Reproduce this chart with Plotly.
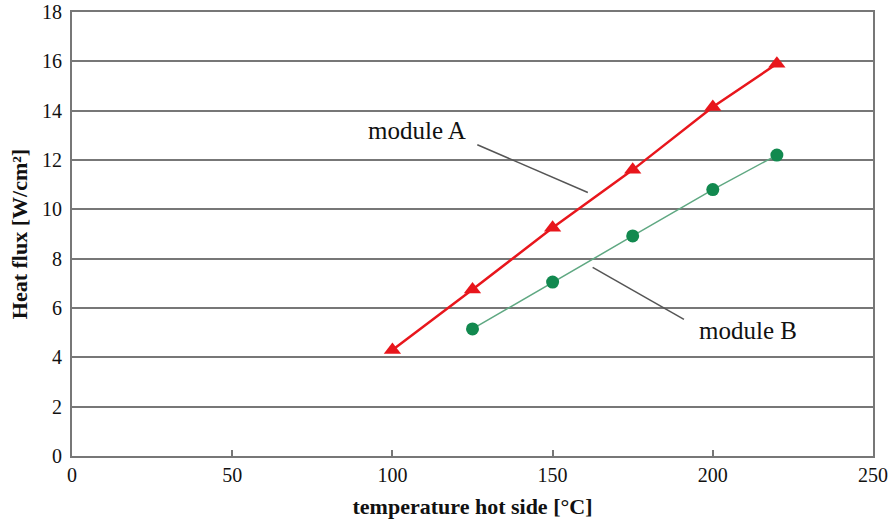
import plotly.graph_objects as go

temp_a = [100, 125, 150, 175, 200, 220]
flux_a = [4.3, 6.75, 9.25, 11.6, 14.15, 15.9]
temp_b = [125, 150, 175, 200, 220]
flux_b = [5.15, 7.05, 8.92, 10.8, 12.2]
x_ticks = [0, 50, 100, 150, 200, 250]
y_ticks = [0, 2, 4, 6, 8, 10, 12, 14, 16, 18]

FONT = "Liberation Serif, Times New Roman, serif"

fig = go.Figure()
fig.add_trace(go.Scatter(x=temp_a, y=flux_a, mode="lines+markers", name="module A",
                         line=dict(color="#e8161c", width=2.5),
                         marker=dict(symbol="triangle-up", size=15, color="#e8161c")))
fig.add_trace(go.Scatter(x=temp_b, y=flux_b, mode="lines+markers", name="module B",
                         line=dict(color="#5fa882", width=1.5),
                         marker=dict(symbol="circle", size=13, color="#12894f")))

# leader lines
fig.add_shape(type="line", x0=126.5, y0=12.62, x1=161.0, y1=10.68,
              line=dict(color="#555555", width=1.5))
fig.add_shape(type="line", x0=162.5, y0=7.65, x1=191.0, y1=5.54,
              line=dict(color="#555555", width=1.5))
fig.add_annotation(x=123.5, y=13.2, text="module A", showarrow=False, xanchor="right",
                   font=dict(family=FONT, size=25, color="#111"))
fig.add_annotation(x=195, y=5.1, text="module B", showarrow=False, xanchor="left",
                   font=dict(family=FONT, size=25, color="#111"))

fig.update_layout(
    width=893, height=524,
    margin=dict(l=72, r=20, t=12, b=68),
    paper_bgcolor="white", plot_bgcolor="white",
    showlegend=False,
    font=dict(family=FONT, color="#111"),
)
fig.update_xaxes(range=[0, 250], tickvals=x_ticks, showgrid=False, automargin=False,
                 showline=True, linecolor="#777", linewidth=2, mirror=True,
                 ticks="inside", ticklen=6, tickcolor="#777", tickwidth=1.5,
                 tickfont=dict(family=FONT, size=20, color="#111"),
                 title=dict(text="<b>temperature hot side [°C]</b>",
                            font=dict(family=FONT, size=22, color="#111"), standoff=14),
                 zeroline=False)
fig.update_yaxes(range=[0, 18], tickvals=y_ticks, showgrid=True, automargin=False,
                 gridcolor="#777", gridwidth=2,
                 showline=True, linecolor="#777", linewidth=2, mirror=True,
                 ticks="", ticklabelstandoff=4,
                 tickfont=dict(family=FONT, size=20, color="#111"),
                 title=dict(text="<b>Heat flux [W/cm²]</b>",
                            font=dict(family=FONT, size=22, color="#111"), standoff=8),
                 zeroline=False)

fig.write_html("out.html", config={"displayModeBar": False},
               post_script="document.body.style.margin='0';")
